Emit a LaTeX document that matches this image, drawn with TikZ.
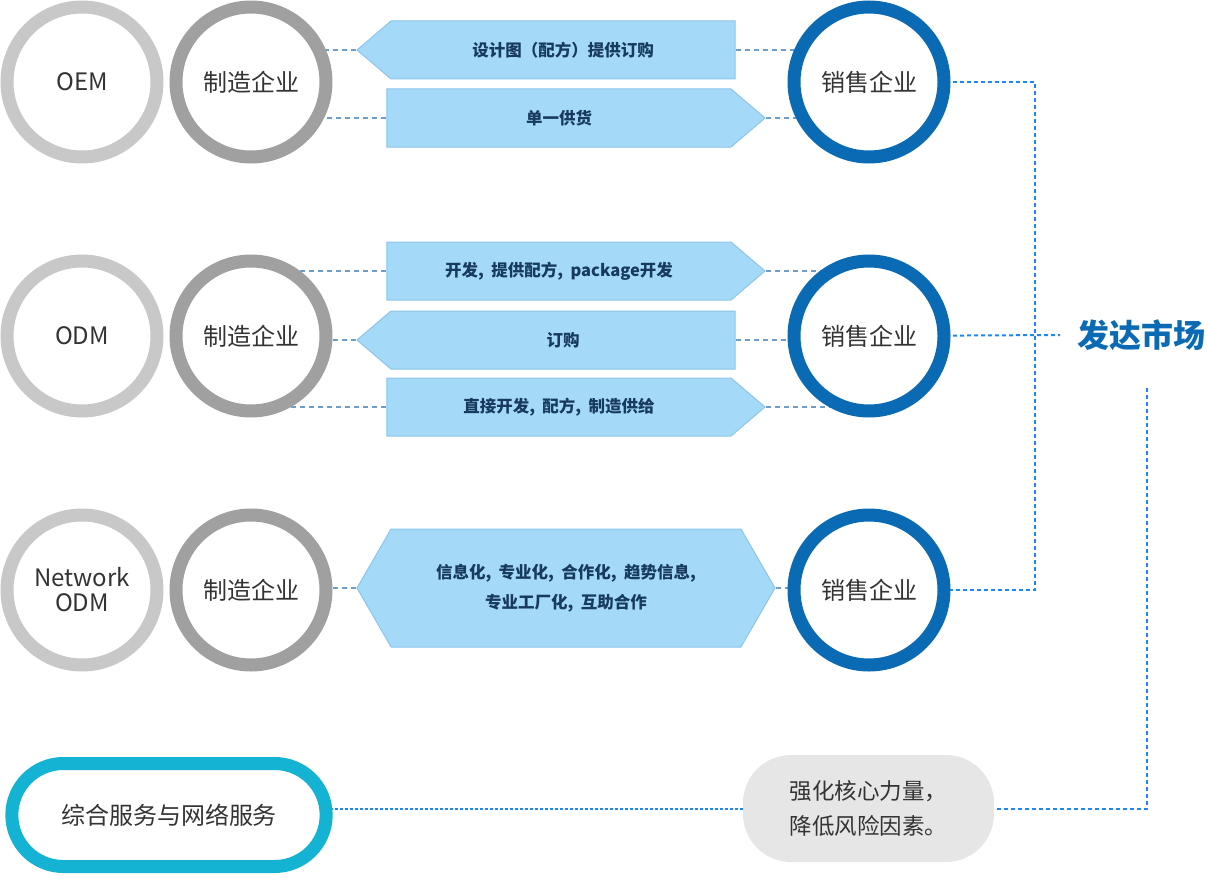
\documentclass[tikz,border=0pt]{standalone}
\usepackage{fontspec}
\setmainfont{Noto Sans CJK SC}
\usepackage{xcolor}
\usetikzlibrary{shapes,shapes.symbols,shapes.misc,positioning,backgrounds}

\definecolor{ringlight}{HTML}{C8C8C8}
\definecolor{ringmid}{HTML}{A0A0A0}
\definecolor{ringblue}{HTML}{0A6AB4}
\definecolor{flowfill}{HTML}{A4DAF8}
\definecolor{flowline}{HTML}{8BC6EA}
\definecolor{flowink}{HTML}{173A5E}
\definecolor{linkgray}{HTML}{6E9DCC}
\definecolor{markline}{HTML}{1E88F0}
\definecolor{svccyan}{HTML}{14B3D3}
\definecolor{riskfill}{HTML}{E6E6E6}
\definecolor{txtdark}{HTML}{333333}

\newcommand{\csep}{,\hspace{.45em}}

\tikzset{
    ring/.style={circle, minimum size=150pt, line width=13pt, fill=white, inner sep=0pt,
        align=center, text=txtdark, font=\fontsize{24}{25}\selectfont},
    flow/.style={signal, fill=flowfill, draw=flowline, line width=1pt, inner sep=0pt,
        minimum height=58pt, minimum width=378pt, signal pointer angle=81,
        align=center, text=flowink, font=\bfseries\fontsize{16.5}{30}\selectfont},
    link/.style={draw=linkgray, line width=1.6pt, dash pattern=on 5pt off 4pt},
    market/.style={draw=markline, line width=2pt, dash pattern=on 4pt off 3pt}
}

\begin{document}
\begin{tikzpicture}[x=1pt,y=-1pt]
    \useasboundingbox (0,0) rectangle (1208,875);

    % Rings
    \foreach \r/\y/\t in {O/82/OEM, D/336/ODM, N/590/{Network\\ODM}} {
        \node[ring, draw=ringlight] (typ\r) at (82,\y) {\t};
        \node[ring, draw=ringmid] (mfg\r) at (251,\y) {制造企业};
        \node[ring, draw=ringblue] (sal\r) at (869,\y) {销售企业};
    }

    % Flows
    \node[flow, signal to=west] (arO1) at (563,50) {设计图（配方）提供订购};
    \node[flow, signal to=east] (arO2) at (559,118) {单一供货};

    \node[flow, signal to=east] (arD1) at (559,271) {开发\csep 提供配方\csep package开发};
    \node[flow, signal to=west] (arD2) at (563,340) {订购};
    \node[flow, signal to=east] (arD3) at (559,407) {直接开发\csep 配方\csep 制造供给};

    \node[flow, signal to=east and west, minimum height=118pt, minimum width=418pt,
        signal pointer angle=120] (arN1) at (566,588)
        {信息化\csep 专业化\csep 合作化\csep 趋势信息,\\专业工厂化\csep 互助合作};

    % Market
    \node[anchor=west, inner xsep=17pt, inner ysep=0pt, text=ringblue,
        font=\bfseries\fontsize{32}{34}\selectfont] (mkt) at (1060,335) {发达市场};
    \coordinate (brk) at (1035,336);
    \coordinate (drop) at (1147,388);

    % Services
    \node[rounded rectangle, draw=svccyan, fill=white, line width=13pt,
        minimum width=321pt, minimum height=103pt, text=txtdark,
        font=\fontsize{24}{26}\selectfont] (svc) at (169,815) {综合服务与网络服务};
    \node[rectangle, rounded corners=48pt, fill=riskfill,
        minimum width=251pt, minimum height=107pt, align=center, text=txtdark,
        font=\fontsize{22.5}{35}\selectfont] (risk) at (868.5,808.5) {强化核心力量，\\降低风险因素。};

    \begin{scope}[on background layer]
        \foreach \a/\r in {O1/O, O2/O, D1/D, D2/D, D3/D, N1/N} {
            \draw[link] (ar\a.west) -- (ar\a.west -| mfg\r.center);
            \draw[link] (ar\a.east) -- (ar\a.east -| sal\r.center);
        }
        \draw[market] (salO.center) -| (brk) |- (salN.center);
        \draw[market] (salD.center) -- (mkt.west);
        \draw[market] (drop) |- (risk.east);
        \draw[market, dash pattern=on 3pt off 2pt] (risk.west) -- (risk.west -| svc.center);
    \end{scope}
\end{tikzpicture}
\end{document}
